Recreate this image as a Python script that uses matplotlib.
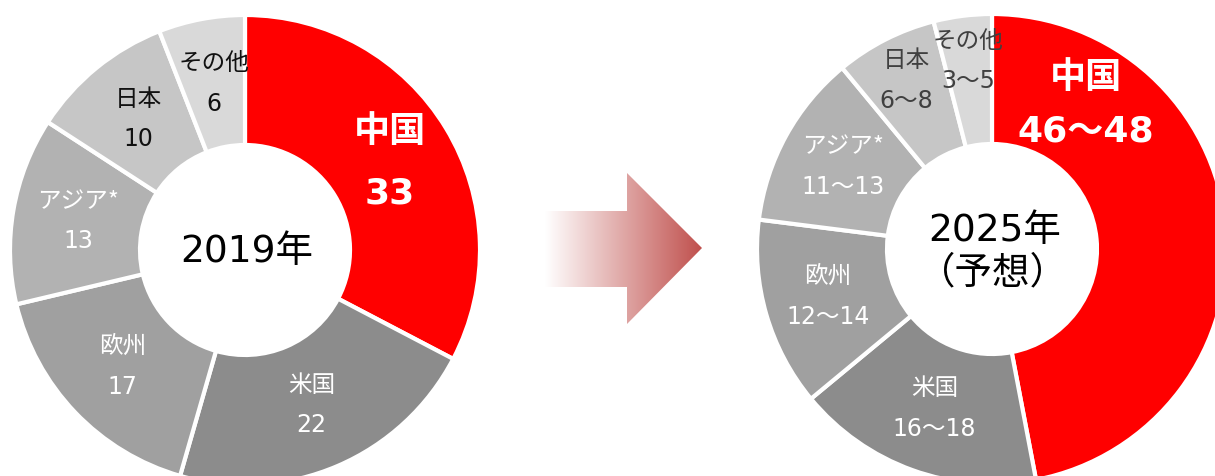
import numpy as np
import matplotlib
matplotlib.use("Agg")
import matplotlib.pyplot as plt
from matplotlib.patches import Polygon

plt.rcParams['font.family'] = ['DejaVu Sans', 'Noto Sans CJK JP']

# data
regions = ["中国", "米国", "欧州", "アジア*", "日本", "その他"]
share_2019 = [33, 22, 17, 13, 10, 6]
labels_2019 = ["33", "22", "17", "13", "10", "6"]
share_2025 = [47, 17, 13, 12, 7, 4]   # midpoints of the forecast ranges
labels_2025 = ["46～48", "16～18", "12～14", "11～13", "6～8", "3～5"]

colors = ["#FF0000", "#8C8C8C", "#A0A0A0", "#B2B2B2", "#C6C6C6", "#D9D9D9"]
CJK = ["Noto Sans CJK JP", "DejaVu Sans"]

W, H = 1215, 476
fig = plt.figure(figsize=(W / 100, H / 100), dpi=100)
ax = fig.add_axes([0, 0, 1, 1])

R = 235
HOLE = 105


def donut(values, names, vals, center, txtcols, rfac, big_fs, small_fs,
          big_gap, override=None):
    wedges, _ = ax.pie(values, center=center, radius=R, startangle=90,
                       counterclock=False, colors=colors,
                       wedgeprops=dict(width=R - HOLE, edgecolor="white",
                                       linewidth=3))
    for i, w in enumerate(wedges):
        ang = np.deg2rad((w.theta1 + w.theta2) / 2)
        if override and i in override:
            ang = np.deg2rad(override[i])
        x = center[0] + rfac[i] * np.cos(ang)
        y = center[1] + rfac[i] * np.sin(ang)
        if i == 0:
            ax.text(x, y + big_gap, names[i], ha="center", va="center",
                    fontsize=big_fs, color="white", fontweight="bold",
                    family=CJK)
            ax.text(x, y - big_gap, vals[i], ha="center", va="center",
                    fontsize=big_fs, color="white", fontweight="bold")
        else:
            gap = 20
            ax.text(x, y + gap, names[i], ha="center", va="center",
                    fontsize=small_fs, color=txtcols[i], family=CJK)
            ax.text(x, y - gap, vals[i], ha="center", va="center",
                    fontsize=small_fs, color=txtcols[i])
    return wedges


donut(share_2019, regions, labels_2019, (245, 226),
      ["white", "white", "white", "white", "#111111", "#111111"],
      [169] * 6, 26, 17, 31)
ax.text(247, 224, "2019年", ha="center", va="center", fontsize=27,
        color="black")

donut(share_2025, regions, labels_2025, (992, 227),
      ["white", "white", "white", "white", "#404040", "#404040"],
      [172, 170, 171, 170, 189, 189], 26, 17, 27,
      override={0: 57})
ax.text(995, 245, "2025年", ha="center", va="center", fontsize=27,
        color="black")
ax.text(993, 203, "（予想）", ha="center", va="center", fontsize=27,
        color="black", family=CJK)

# gradient arrow
arrow = Polygon([(545, 265), (627, 265), (627, 303), (702, 228),
                 (627, 152), (627, 189), (545, 189)], closed=True,
                facecolor="none", edgecolor="none")
ax.add_patch(arrow)
t = np.linspace(0, 1, 256)
c0 = np.array([1.0, 1.0, 1.0])
c1 = np.array([192, 80, 77]) / 255
grad = (c0[None, :] * (1 - t[:, None]) + c1[None, :] * t[:, None])[None, :, :]
im = ax.imshow(grad, extent=(545, 702, 152, 303), aspect="auto",
               interpolation="bilinear", zorder=2)
im.set_clip_path(arrow)

ax.set_xlim(0, W)
ax.set_ylim(0, H)
ax.set_aspect("equal")
ax.axis("off")

fig.savefig("out.png", dpi=100)
